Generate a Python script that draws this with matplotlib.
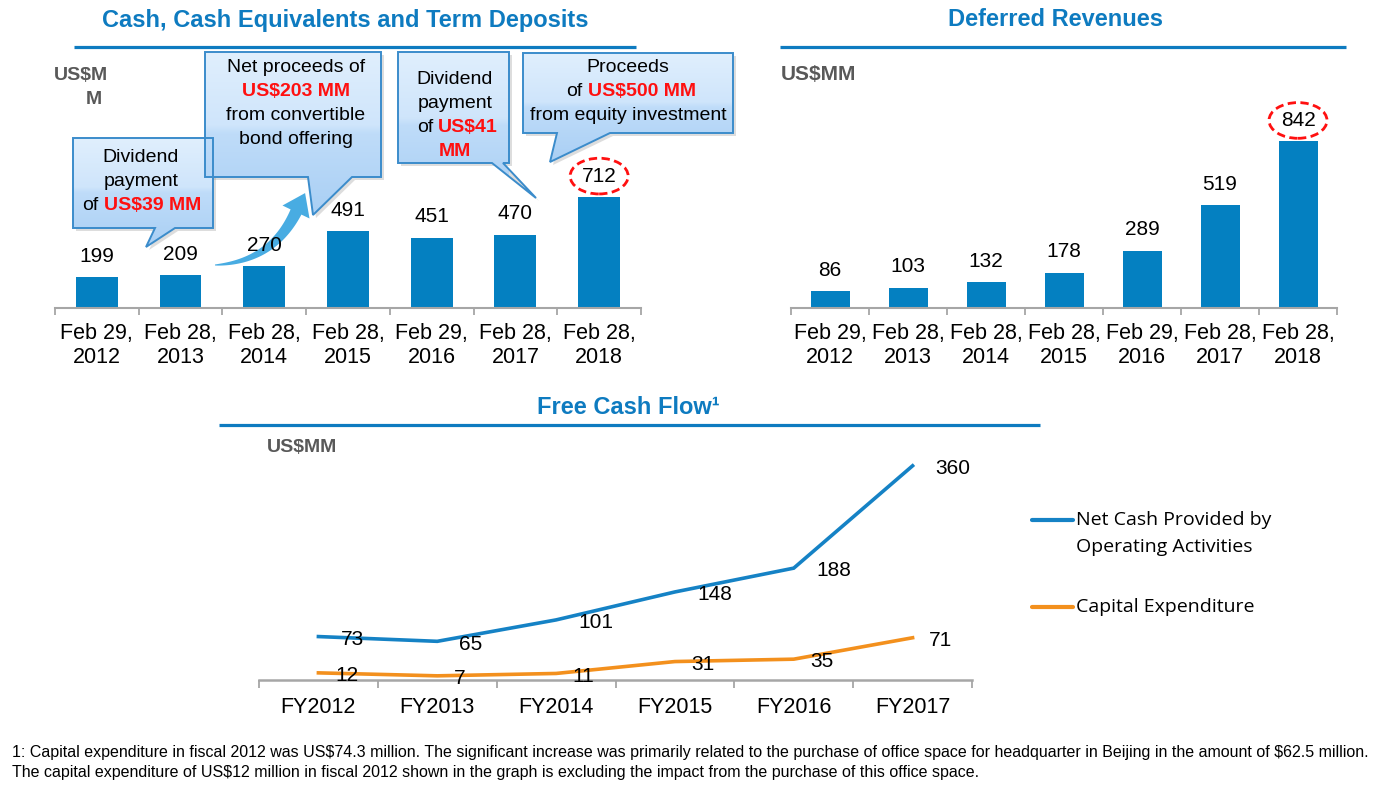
import numpy as np
import matplotlib
matplotlib.use("Agg")
import matplotlib.pyplot as plt
from matplotlib.patches import Polygon
from matplotlib.colors import LinearSegmentedColormap

plt.rcParams['font.family'] = ['Liberation Sans', 'DejaVu Sans']

# ---------------- data ----------------
cash_dates = ["Feb 29,\n2012", "Feb 28,\n2013", "Feb 28,\n2014", "Feb 28,\n2015",
              "Feb 29,\n2016", "Feb 28,\n2017", "Feb 28,\n2018"]
cash_values = [199, 209, 270, 491, 451, 470, 712]

deferred_dates = ["Feb 29,\n2012", "Feb 28,\n2013", "Feb 28,\n2014", "Feb 28,\n2015",
                  "Feb 29,\n2016", "Feb 28,\n2017", "Feb 28,\n2018"]
deferred_values = [86, 103, 132, 178, 289, 519, 842]

fcf_years = ["FY2012", "FY2013", "FY2014", "FY2015", "FY2016", "FY2017"]
net_cash = [73, 65, 101, 148, 188, 360]
capex = [12, 7, 11, 31, 35, 71]

# ---------------- style ----------------
BAR = "#0480c1"
TITLE = "#0e7bc0"
NET = "#1582c5"
ORANGE = "#f3901d"
RED = "#ff1010"
GREY = "#595959"
AXIS = "#a6a6a6"

W, H = 1390, 791
fig = plt.figure(figsize=(W / 100, H / 100), dpi=100)


def px_axes(left, right, bottom, top):
    return fig.add_axes([left / W, 1 - bottom / H, (right - left) / W, (bottom - top) / H])


ov = fig.add_axes([0, 0, 1, 1])
ov.set_zorder(0)
ov.axis('off')


def bar_chart(ax, labels, values, ymax):
    x = np.arange(len(values))
    ax.bar(x, values, width=0.5, color=BAR, zorder=2)
    ax.set_xlim(-0.5, len(values) - 0.5)
    ax.set_ylim(0, ymax)
    for s in ['top', 'right', 'left']:
        ax.spines[s].set_visible(False)
    ax.spines['bottom'].set_color(AXIS)
    ax.spines['bottom'].set_linewidth(1.5)
    ax.set_yticks([])
    ax.set_xticks(x)
    ax.set_xticklabels(labels, fontsize=15.5, linespacing=1.2)
    ax.tick_params(axis='x', which='major', length=0, pad=11)
    ax.set_xticks(np.arange(len(values) + 1) - 0.5, minor=True)
    ax.tick_params(axis='x', which='minor', length=5, color=AXIS, width=1.3)
    ax.patch.set_visible(False)
    last = len(values) - 1
    for i, v in enumerate(values):
        kw = {}
        if i == last:
            kw['bbox'] = dict(boxstyle='ellipse,pad=0.15', fc='none', ec=RED,
                              ls=(0, (3, 1.6)), lw=2)
        ax.annotate(str(v), (i, v), xytext=(0, 15), textcoords='offset points',
                    ha='center', va='center', fontsize=15, **kw)


ax1 = px_axes(55, 641, 308, 308 - 0.156 * 800)
ax1.set_zorder(2)
bar_chart(ax1, cash_dates, cash_values, 800)

ax2 = px_axes(791, 1337, 308, 308 - 0.198 * 900)
ax2.set_zorder(2)
bar_chart(ax2, deferred_dates, deferred_values, 900)

# ---------------- free cash flow ----------------
ax3 = px_axes(259, 972, 680, 680 - 0.595 * 400)
ax3.set_zorder(2)
ax3.patch.set_visible(False)
xf = np.arange(len(fcf_years))
ax3.plot(xf, net_cash, color=NET, lw=2.6, solid_joinstyle='miter')
ax3.plot(xf, capex, color=ORANGE, lw=2.6, solid_joinstyle='miter')
ax3.set_xlim(-0.5, len(fcf_years) - 0.5)
ax3.set_ylim(0, 400)
for s in ['top', 'right', 'left']:
    ax3.spines[s].set_visible(False)
ax3.spines['bottom'].set_color(AXIS)
ax3.spines['bottom'].set_linewidth(1.8)
ax3.set_yticks([])
ax3.set_xticks(xf)
ax3.set_xticklabels(fcf_years, fontsize=15.5)
ax3.tick_params(axis='x', which='major', length=0, pad=12)
ax3.set_xticks(np.arange(len(fcf_years) + 1) - 0.5, minor=True)
ax3.tick_params(axis='x', which='minor', length=6, color=AXIS, width=1.3)
for i, v in enumerate(net_cash):
    ax3.annotate(str(v), (i, v), xytext=(16, -2), textcoords='offset points',
                 ha='left', va='center', fontsize=15)
for i, v in enumerate(capex):
    ax3.annotate(str(v), (i, v), xytext=(12, -2), textcoords='offset points',
                 ha='left', va='center', fontsize=15)

# ---------------- overlay (pixel coordinates) ----------------
ov.set_xlim(0, W)
ov.set_ylim(H, 0)

# titles + underlines
ov.text(345, 20, "Cash, Cash Equivalents and Term Deposits", color=TITLE, fontsize=17,
        fontweight='bold', ha='center', va='center', parse_math=False)
ov.plot([74, 636], [47, 47], color=TITLE, lw=2.3, solid_capstyle='butt')
ov.text(1056, 20, "Deferred Revenues", color=TITLE, fontsize=17,
        fontweight='bold', ha='center', va='center')
ov.plot([780, 1346], [47, 47], color=TITLE, lw=2.3, solid_capstyle='butt')
ov.text(628, 408, "Free Cash Flow¹", color=TITLE, fontsize=17,
        fontweight='bold', ha='center', va='center')
ov.plot([219, 1040], [425, 425], color=TITLE, lw=2.3, solid_capstyle='butt')

# units
ov.text(54, 76, "US$M", color=GREY, fontsize=14, fontweight='bold', ha='left', va='center',
        parse_math=False)
ov.text(86, 99, "M", color=GREY, fontsize=14, fontweight='bold', ha='left', va='center')
ov.text(781, 75, "US$MM", color=GREY, fontsize=15, fontweight='bold', ha='left', va='center',
        parse_math=False)
ov.text(267, 448, "US$MM", color=GREY, fontsize=14, fontweight='bold', ha='left', va='center',
        parse_math=False)

# callouts
cmap = LinearSegmentedColormap.from_list(
    "callout", [(0, "#e0effd"), (0.45, "#cfe5fb"), (0.5, "#bfdcf9"), (1, "#a9cff4")])


def callout(left, top, right, bottom, base1, base2, tip):
    verts = [(left, top), (right, top), (right, bottom), (base2, bottom), tip,
             (base1, bottom), (left, bottom)]
    shadow = Polygon([(x + 3, y + 3) for x, y in verts], closed=True, fc='#909090',
                     ec='none', alpha=0.3, zorder=1)
    ov.add_patch(shadow)
    poly = Polygon(verts, closed=True, fc='none', ec='#3b8ccb', lw=1.4, zorder=3)
    ov.add_patch(poly)
    ymax = max(bottom, tip[1])
    grad = np.linspace(0, 1, 256)[:, None]
    img = ov.imshow(grad, cmap=cmap, extent=(left, right, ymax, top), aspect='auto',
                    zorder=2, interpolation='bilinear')
    img.set_clip_path(poly)


def ctext(x, y, s, **kw):
    ov.text(x, y, s, fontsize=14, va='center', zorder=4, parse_math=False, **kw)


callout(73, 138, 213, 228, 155, 175, (146, 247))
ctext(141, 158, "Dividend", ha='center')
ctext(141, 182, "payment", ha='center')
ctext(98, 206, "of", ha='right')
ctext(104, 206, "US$39 MM", ha='left', color=RED, fontweight='bold')

callout(205, 52, 381, 177, 308, 352, (313, 215))
ctext(296, 67, "Net proceeds of", ha='center')
ctext(296, 91, "US$203 MM", ha='center', color=RED, fontweight='bold')
ctext(296, 115, "from convertible", ha='center')
ctext(296, 140, "bond offering", ha='center')

callout(398, 52, 509, 163, 492, 503, (536, 198))
ctext(455, 80, "Dividend", ha='center')
ctext(455, 104, "payment", ha='center')
ctext(433, 128, "of", ha='right')
ctext(438, 128, "US$41", ha='left', color=RED, fontweight='bold')
ctext(455, 152, "MM", ha='center', color=RED, fontweight='bold')

callout(523, 53, 733, 133, 557, 610, (550, 162))
ctext(628, 67, "Proceeds", ha='center')
ctext(582, 91, "of", ha='right')
ctext(588, 91, "US$500 MM", ha='left', color=RED, fontweight='bold')
ctext(628, 115, "from equity investment", ha='center')

# curved arrow
P0 = np.array([215.0, 265.0])
P1 = np.array([272.0, 262.0])
P2 = np.array([296.0, 212.0])
t = np.linspace(0, 1, 60)[:, None]
curve = (1 - t) ** 2 * P0 + 2 * (1 - t) * t * P1 + t ** 2 * P2
deriv = 2 * (1 - t) * (P1 - P0) + 2 * t * (P2 - P1)
tang = deriv / np.linalg.norm(deriv, axis=1, keepdims=True)
norm = np.column_stack([-tang[:, 1], tang[:, 0]])
half = (0.5 + 5.5 * t[:, 0] ** 0.8)[:, None]
upper = curve + norm * half
lower = curve - norm * half
d = tang[-1]
n = norm[-1]
tip = P2 + d * 21
head = [P2 + n * 15, tip, P2 - n * 15]
arrow_verts = list(upper) + [head[0], head[1], head[2]] + list(lower[::-1])
ov.add_patch(Polygon(arrow_verts, closed=True, fc="#48ace2", ec='none', zorder=1))

# legend (manual)
ov.plot([1032, 1073], [520, 520], color=NET, lw=3, solid_capstyle='round')
ov.text(1076, 520, "Net Cash Provided by", fontsize=14, family=['Open Sans', 'DejaVu Sans'],
        ha='left', va='center')
ov.text(1076, 547, "Operating Activities", fontsize=14, family=['Open Sans', 'DejaVu Sans'],
        ha='left', va='center')
ov.plot([1032, 1073], [607, 607], color=ORANGE, lw=3, solid_capstyle='round')
ov.text(1076, 607, "Capital Expenditure", fontsize=14, family=['Open Sans', 'DejaVu Sans'],
        ha='left', va='center')

# footnote
ov.text(12, 753, "1: Capital expenditure in fiscal 2012 was US$74.3 million. The significant increase "
        "was primarily related to the purchase of office space for headquarter in Beijing in the "
        "amount of $62.5 million.", fontsize=11.5, ha='left', va='center', parse_math=False)
ov.text(12, 773, "The capital expenditure of US$12 million in fiscal 2012 shown in the graph is "
        "excluding the impact from the purchase of this office space.", fontsize=11.5,
        ha='left', va='center', parse_math=False)

ov.set_xlim(0, W)
ov.set_ylim(H, 0)

fig.savefig("out.png", dpi=100)
